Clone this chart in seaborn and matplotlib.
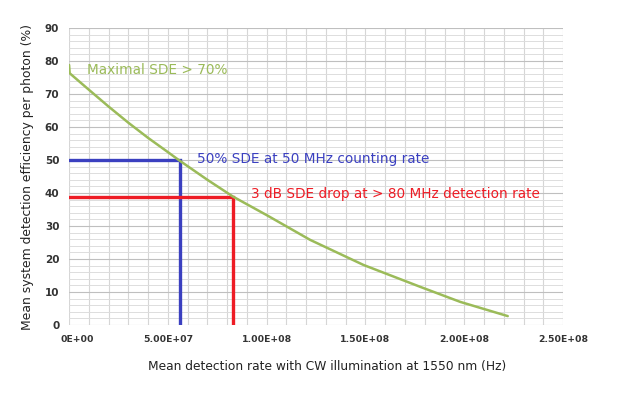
import matplotlib
matplotlib.use('Agg')
import matplotlib.pyplot as plt
import matplotlib.transforms as mtrans
import seaborn as sns
import pandas as pd
from matplotlib.ticker import MultipleLocator

# leitura da curva (taxa em Hz, SDE em %)
taxa = [0, 0.03e7, 1e7, 2e7, 3e7, 4e7, 5e7, 5.55e7, 7e7, 8.3e7, 10e7, 12.2e7, 14.9e7, 17.8e7, 19.8e7, 22.2e7]
sde = [78.8, 76.3, 71.3, 66.2, 61.3, 56.7, 52.4, 50, 44.0, 38.9, 33.3, 25.8, 18.2, 11.5, 7.0, 2.7]

taxa_50 = 5.6e7
sde_50 = 50
taxa_3db = 8.3e7
sde_3db = 38.9

xticks = [0, 5e7, 1e8, 1.5e8, 2e8, 2.5e8]
xtick_labels = ['0E+00', '5.00E+07', '1.00E+08', '1.50E+08', '2.00E+08', '2.50E+08']

verde = '#9BBB59'
azul = '#3B40C0'
vermelho = '#EE1C25'

sns.set_style('white')
plt.rcParams['font.family'] = ['DejaVu Sans']

fig = plt.figure(figsize=(6.28, 3.98), dpi=100)
ax = fig.add_axes([0.11, 0.1834, 0.7866, 0.7462])

dados = pd.DataFrame({'taxa': taxa, 'sde': sde})
sns.lineplot(x='taxa', y='sde', data=dados, color=verde, linewidth=1.8, ax=ax, zorder=3)

ax.plot([0, taxa_50, taxa_50], [sde_50, sde_50, 0], color=azul, linewidth=2.4, zorder=2,
        solid_joinstyle='miter')
ax.plot([0, taxa_3db, taxa_3db], [sde_3db, sde_3db, 0], color=vermelho, linewidth=2.4, zorder=2,
        solid_joinstyle='miter')

ax.set_xlim(0, 2.5e8)
ax.set_ylim(0, 90)
ax.set_xticks(xticks)
ax.set_xticklabels(xtick_labels, fontsize=6.7, fontweight='bold', color='#333333')
ax.set_yticks(range(0, 91, 10))
ax.set_yticklabels([str(v) for v in range(0, 91, 10)], fontsize=7.5, fontweight='bold', color='#333333')
ax.xaxis.set_minor_locator(MultipleLocator(1e7))
ax.yaxis.set_minor_locator(MultipleLocator(2))

ax.grid(which='major', axis='y', color='#BFBFBF', linewidth=0.8)
ax.grid(which='minor', axis='y', color='#DDDDDD', linewidth=0.7)
ax.grid(which='both', axis='x', color='#D6D6D6', linewidth=0.8)
ax.set_axisbelow(True)
for lado in ['top', 'right', 'bottom', 'left']:
    ax.spines[lado].set_visible(False)
ax.tick_params(axis='both', which='major', length=3, color='#BFBFBF', pad=4)
ax.tick_params(axis='both', which='minor', length=0)
# o primeiro rótulo do Excel fica um pouco deslocado para a direita
rotulo0 = ax.get_xticklabels()[0]
rotulo0.set_transform(rotulo0.get_transform() + mtrans.ScaledTranslation(0.08, 0, fig.dpi_scale_trans))

ax.text(0.9e7, 77.3, 'Maximal SDE > 70%', color=verde, fontsize=9.8, va='center')
ax.text(6.45e7, 50.2, '50% SDE at 50 MHz counting rate', color=azul, fontsize=9.8, va='center')
ax.text(9.2e7, 39.6, '3 dB SDE drop at > 80 MHz detection rate', color=vermelho, fontsize=9.8, va='center')

ax.set_xlabel('Mean detection rate with CW illumination at 1550 nm (Hz)', fontsize=8.8, color='#222222')
ax.xaxis.set_label_coords(0.522, -0.118)
ax.set_ylabel('Mean system detection efficiency per photon (%)', fontsize=8.9, color='#222222', labelpad=8)

plt.savefig('out.png', dpi=100)
